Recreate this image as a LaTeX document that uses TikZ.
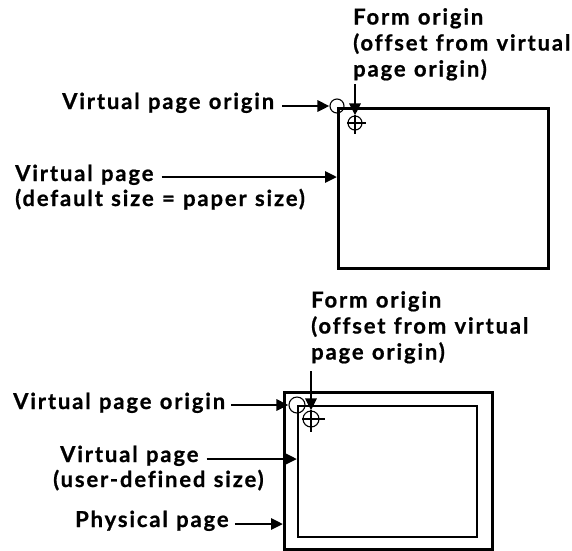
\documentclass[tikz,border=0pt]{standalone}
\usepackage{fontspec}
\setmainfont{Lato}[BoldFont=* Bold, BoldFeatures={FakeBold=0.8}, LetterSpace=8.5, Ligatures=CommonOff, WordSpace=1.15]
\usetikzlibrary{arrows.meta}
\newcommand{\lblfont}{\fontsize{22}{26}\selectfont\bfseries}
\tikzset{
  lbl/.style={font=\lblfont, align=left, inner sep=0pt},
  arr/.style={line width=2.8pt, -{Triangle[length=12pt,width=11pt]}},
  outerpage/.style={draw, line width=3pt, inner sep=0pt, anchor=north west},
  innerpage/.style={draw, line width=1.8pt, inner sep=0pt, anchor=north west},
  origin/.style={draw, circle, line width=1.1pt, inner sep=0pt},
}
\begin{document}
\begin{tikzpicture}[x=1pt, y=-1pt]
\useasboundingbox (0,0) rectangle (572,550);

% ---------- top diagram ----------
\node[outerpage, minimum width=210pt, minimum height=160pt] (rectA) at (337,107) {};
\node[origin, minimum size=14pt] (circA) at (337,106) {};
\node[origin, minimum size=14pt] (crossA) at (355,123) {};
\draw[line width=1.1pt] (crossA.west) -- ++(19,0);
\draw[line width=1.1pt] (crossA.north) -- ++(0,19);

\node[lbl, anchor=north west] (formA) at (353,8) {Form origin\\(offset from virtual\\page origin)};
\coordinate (fA) at (355,84);
\draw[arr] (fA) -- (crossA.north);

\node[lbl, anchor=base west] (vpoA) at (62,109) {Virtual page origin};
\draw[arr, shorten <=8pt] (vpoA.east |- circA.west) -- (circA.west);

\node[lbl, anchor=base west] (vpA) at (15,181) {Virtual page};
\node[lbl, anchor=base west] (vpAsub) at (15,206) {(default size = paper size)};
\coordinate (vaA) at ([yshift=4pt]vpA.base east);
\draw[arr, shorten <=8pt] (vaA) -- (vaA -| rectA.west);

% ---------- bottom diagram ----------
\node[outerpage, minimum width=208pt, minimum height=157pt] (physB) at (283,391) {};
\node[innerpage, minimum width=179pt, minimum height=131pt] (rectB) at (297,405) {};
\node[origin, minimum size=16pt] (circB) at (297,405) {};
\node[origin, minimum size=16pt] (crossB) at (311,419) {};
\draw[line width=1.1pt] (crossB.west) -- ++(23,0);
\draw[line width=1.1pt] (crossB.north) -- ++(0,22);

\node[lbl, anchor=north west] (formB) at (311,291) {Form origin\\(offset from virtual\\page origin)};
\coordinate (fB) at (311,371);
\draw[arr] (fB) -- (crossB.north);

\node[lbl, anchor=base west] (vpoB) at (13,409) {Virtual page origin};
\draw[arr, shorten <=6pt] (vpoB.east |- circB.west) -- (circB.west);

\node[lbl, anchor=base west] (vpB) at (60,462) {Virtual page};
\node[lbl, anchor=base west] (vpBsub) at (53,487) {(user-defined size)};
\coordinate (vaB) at ([yshift=3pt]vpB.base east);
\draw[arr, shorten <=8pt] (vaB) -- (vaB -| rectB.west);

\node[lbl, anchor=base west] (ppB) at (75,527) {Physical page};
\coordinate (paB) at ([yshift=3pt]ppB.base east);
\draw[arr, shorten <=6pt] (paB) -- (paB -| physB.west);
\end{tikzpicture}
\end{document}
